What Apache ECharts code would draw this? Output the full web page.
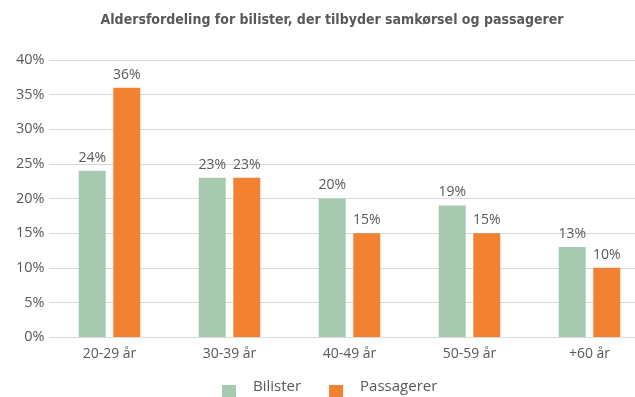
<!DOCTYPE html>
<html>
<head>
<meta charset="utf-8">
<style>
  html, body { margin: 0; padding: 0; background: #fff; }
  #chart { width: 635px; height: 397px; }
</style>
<script src="https://cdn.jsdelivr.net/npm/echarts@6/dist/echarts.min.js"></script>
</head>
<body>
<div id="chart"></div>
<script>
// Age groups and shares (%) for drivers offering rides vs. passengers
const categories = ['20-29 år', '30-39 år', '40-49 år', '50-59 år', '+60 år'];
const bilister = [24, 23, 20, 19, 13];
const passagerer = [36, 23, 15, 15, 10];
const seriesNames = ['Bilister', 'Passagerer'];
const titleText = 'Aldersfordeling for bilister, der tilbyder samkørsel og passagerer';

const textColor = '#595959';
const baseFont = '"Open Sans", "Noto Sans", sans-serif';

// Legend swatch sits a little below the text line: the leading moveTo widens
// the path's bounding box upward so the square lands in its lower part.
const swatchIcon = 'path://M0,0 M0,10 L14,10 L14,24 L0,24 Z';

const chart = echarts.init(document.getElementById('chart'), null, { renderer: 'canvas' });

const barLabel = {
  show: true,
  position: 'top',
  distance: 6,
  color: textColor,
  fontFamily: baseFont,
  fontSize: 14,
  formatter: p => p.value + '%'
};

chart.setOption({
  animation: false,
  backgroundColor: '#ffffff',
  title: {
    text: titleText,
    left: 327,
    top: 8,
    textAlign: 'center',
    textStyle: {
      fontFamily: '"DejaVu Sans Condensed", "Liberation Sans Narrow", sans-serif',
      fontWeight: 'bold',
      fontSize: 14,
      color: textColor
    }
  },
  legend: {
    data: seriesNames,
    left: 217,
    top: 370,
    itemWidth: 14,
    itemHeight: 24,
    itemGap: 28,
    icon: swatchIcon,
    textStyle: {
      fontFamily: baseFont,
      fontSize: 15,
      color: textColor,
      padding: [0, 0, 0, 12]
    }
  },
  grid: {
    left: 49.5,
    top: 60,
    width: 600,
    height: 277,
    containLabel: false,
    outerBoundsMode: 'none'
  },
  xAxis: {
    type: 'category',
    data: categories,
    axisLine: { lineStyle: { color: '#d9d9d9', width: 1 } },
    axisTick: { show: false },
    axisLabel: {
      color: textColor,
      fontFamily: baseFont,
      fontSize: 14,
      margin: 10
    }
  },
  yAxis: {
    type: 'value',
    min: 0,
    max: 40,
    interval: 5,
    axisLine: { show: false },
    axisTick: { show: false },
    splitLine: { lineStyle: { color: '#d9d9d9', width: 1 } },
    axisLabel: {
      color: textColor,
      fontFamily: baseFont,
      fontSize: 14.5,
      margin: 5,
      formatter: v => v + '%'
    }
  },
  series: [
    {
      name: seriesNames[0],
      type: 'bar',
      data: bilister,
      barWidth: 27,
      barGap: '28%',
      itemStyle: { color: '#A7C9AF' },
      label: barLabel
    },
    {
      name: seriesNames[1],
      type: 'bar',
      data: passagerer,
      barWidth: 27,
      barGap: '28%',
      itemStyle: { color: '#F28232' },
      label: barLabel
    }
  ]
});
</script>
</body>
</html>
